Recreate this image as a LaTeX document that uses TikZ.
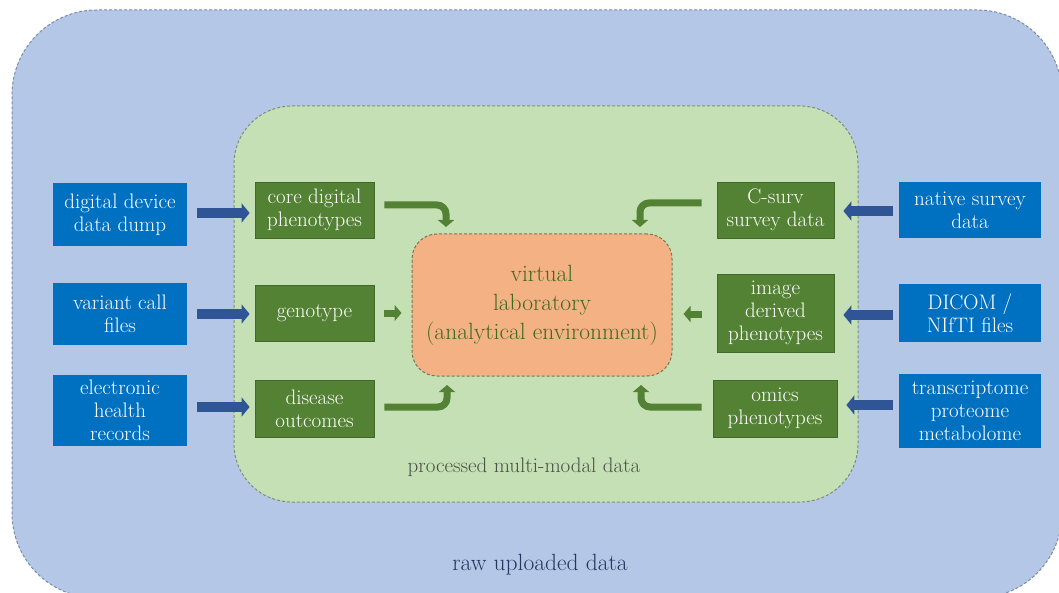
\documentclass[tikz,border=0pt]{standalone}
\usetikzlibrary{arrows.meta}
\definecolor{rawfill}{HTML}{B4C7E7}
\definecolor{rawline}{HTML}{7A8CAE}
\definecolor{procfill}{HTML}{C5E0B4}
\definecolor{procline}{HTML}{7F8C7C}
\definecolor{labfill}{HTML}{F4B183}
\definecolor{labline}{HTML}{6E7A55}
\definecolor{labtext}{HTML}{3F6A22}
\definecolor{gbox}{HTML}{548235}
\definecolor{gboxline}{HTML}{41692A}
\definecolor{bbox}{HTML}{0070C0}
\definecolor{barrowc}{HTML}{2F5597}
\definecolor{proctext}{HTML}{4A4F48}
\definecolor{rawtext}{HTML}{26365F}
\tikzset{
  boxtext/.style={font=\fontsize{21}{23}\selectfont, text=white, align=center, inner sep=2pt},
  bluebox/.style={boxtext, fill=bbox, minimum width=134pt},
  greenbox/.style={boxtext, fill=gbox, draw=gboxline, line width=0.8pt, minimum width=119pt},
  rbluebox/.style={boxtext, fill=bbox, minimum width=142pt},
  rgreenbox/.style={boxtext, fill=gbox, draw=gboxline, line width=0.8pt, minimum width=117pt},
  barrow/.style={draw=barrowc, line width=10pt, -{Triangle[length=8pt,width=19pt]}},
  garrow/.style={draw=gbox, line width=7pt, rounded corners=9pt, -{Triangle[length=7pt,width=16pt]}},
}
\begin{document}
\begin{tikzpicture}[x=1pt,y=-1pt]
\clip (0,0) rectangle (1059,593);
\fill[white] (0,0) rectangle (1059,593);
% outer container
\node[draw=rawline, fill=rawfill, dashed, dash pattern=on 3pt off 2pt, line width=1pt,
  rounded corners=85pt, minimum width=1050pt, minimum height=588pt, inner sep=0pt] (raw) at (537,304) {};
\node[font=\fontsize{23.5}{26}\selectfont, text=rawtext] (rawlabel) at (540,565) {raw uploaded data};
% inner container
\node[draw=procline, fill=procfill, dashed, dash pattern=on 3pt off 2pt, line width=1pt,
  rounded corners=58pt, minimum width=624pt, minimum height=396pt, inner sep=0pt] (proc) at (546,304) {};
\node[font=\fontsize{21}{23}\selectfont, text=proctext] (proclabel) at (524,467) {processed multi-modal data};
% virtual laboratory
\node[draw=labline, fill=labfill, dashed, dash pattern=on 3pt off 2pt, line width=1pt,
  rounded corners=25pt, minimum width=260pt, minimum height=142pt, inner sep=0pt,
  font=\fontsize{23.5}{29}\selectfont, text=labtext, align=center] (lab) at (542,305)
  {virtual\\laboratory\\(analytical environment)};
% left raw boxes
\node[bluebox, minimum height=63pt] (b1) at (120,214.5) {digital device\\data dump};
\node[bluebox, minimum height=62pt] (b2) at (120,314) {variant call\\files};
\node[bluebox, minimum height=71pt] (b3) at (120,410.5) {electronic\\health\\records};
% left processed boxes
\node[greenbox, minimum height=56pt] (g1) at (314.5,210) {core digital\\phenotypes};
\node[greenbox, minimum height=56pt] (g2) at (314.5,313) {genotype};
\node[greenbox, minimum height=57pt] (g3) at (314.5,408.5) {disease\\outcomes};
% right processed boxes
\node[rgreenbox, minimum height=56pt] (c1) at (775.5,210) {C-surv\\survey data};
\node[rgreenbox, minimum height=78pt] (c2) at (775.5,313) {image\\derived\\phenotypes};
\node[rgreenbox, minimum width=124pt, minimum height=57pt] (c3) at (775,408.5) {omics\\phenotypes};
% right raw boxes
\node[rbluebox, minimum height=56pt] (r1) at (970,210) {native survey\\data};
\node[rbluebox, minimum height=58pt] (r2) at (970,313) {DICOM /\\NIfTI files};
\node[rbluebox, minimum height=74pt] (r3) at (970,411) {transcriptome\\proteome\\metabolome};
% blue arrows left
\draw[barrow] ([xshift=10pt,yshift=1.5pt]b1.east) -- ([xshift=-5pt,yshift=1.5pt]b1.east -| g1.west);
\draw[barrow] ([xshift=10pt]b2.east) -- ([xshift=-5pt]b2.east -| g2.west);
\draw[barrow] ([xshift=10pt,yshift=3.5pt]b3.east) -- ([xshift=-5pt,yshift=3.5pt]b3.east -| g3.west);
% blue arrows right
\draw[barrow] ([xshift=-6pt,yshift=-1pt]r1.west) -- ([xshift=9pt,yshift=-1pt]r1.west -| c1.east);
\draw[barrow] ([xshift=-6pt,yshift=-2pt]r2.west) -- ([xshift=9pt,yshift=-2pt]r2.west -| c2.east);
\draw[barrow] ([xshift=-6pt,yshift=6pt]r3.west) -- ([xshift=9pt,yshift=6pt]r3.west -| c3.east);
% green arrows into the laboratory
\coordinate (tl1) at (446,227);
\coordinate (tl3) at (447,385);
\coordinate (tr1) at (640,227);
\coordinate (tr3) at (641,385);
\draw[garrow] ([xshift=10pt,yshift=5pt]g1.east) -| (tl1);
\draw[garrow] ([xshift=10pt]g2.east) -- ([xshift=-10pt]g2.east -| lab.west);
\draw[garrow] ([xshift=10pt,yshift=1.5pt]g3.east) -| (tl3);
\draw[garrow] ([xshift=-15pt,yshift=7pt]c1.west) -| (tr1);
\draw[garrow] ([xshift=-15pt,yshift=-1pt]c2.west) -- ([xshift=11pt,yshift=-1pt]c2.west -| lab.east);
\draw[garrow] ([xshift=-11pt,yshift=1.5pt]c3.west) -| (tr3);
\end{tikzpicture}
\end{document}
